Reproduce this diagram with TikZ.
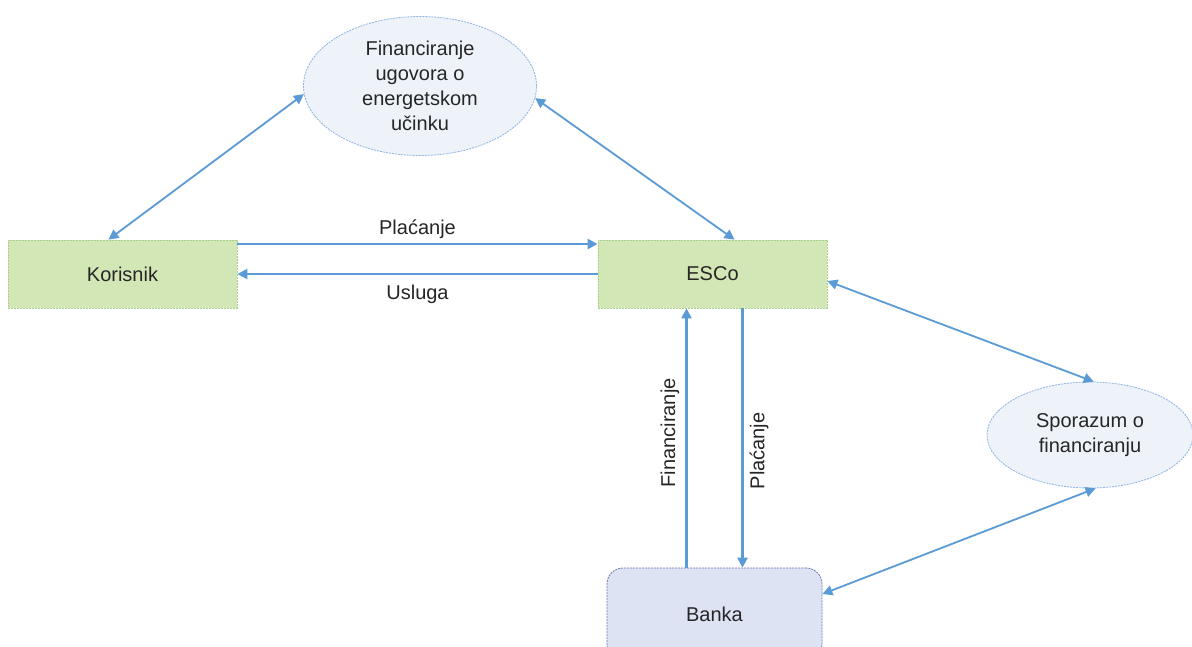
\documentclass[tikz,border=0pt]{standalone}
\usepackage{fontspec}
\setmainfont{Liberation Sans}
\usetikzlibrary{arrows.meta,shapes.geometric,calc}
\definecolor{arr}{HTML}{5B9BD5}
\definecolor{gfill}{HTML}{D3E6B5}
\definecolor{gline}{HTML}{A8D08D}
\definecolor{efill}{HTML}{EEF3FA}
\definecolor{eline}{HTML}{8DB3E2}
\definecolor{bfill}{HTML}{DEE3F3}
\definecolor{bline}{HTML}{6E78B0}
\begin{document}
\begin{tikzpicture}[x=1pt,y=-1pt,
  every node/.style={font=\fontsize{20}{25}\selectfont, text=black!85},
  greenbox/.style={rectangle, fill=gfill, draw=gline, dash pattern=on 2pt off 1pt, line width=0.8pt, minimum width=229pt, minimum height=68pt, inner sep=0pt},
  bubble/.style={ellipse, fill=efill, draw=eline, dash pattern=on 2pt off 1pt, line width=0.8pt, inner sep=0pt, align=center},
  bankbox/.style={rectangle, rounded corners=16pt, fill=bfill, draw=bline, dash pattern=on 2pt off 1pt, line width=0.8pt, minimum width=215pt, minimum height=92pt, inner sep=0pt},
  link/.style={draw=arr, line width=2.4pt, -{Triangle[length=10pt,width=10pt]}},
  bilink/.style={draw=arr, line width=1.8pt, {Triangle[length=10pt,width=10pt]}-{Triangle[length=10pt,width=10pt]}}
]
\useasboundingbox (0,0) rectangle (1192,646);
\clip (0,0) rectangle (1192,646);
\fill[white] (0,0) rectangle (1192,646);

\node[greenbox] (kor) at (122.5,274) {Korisnik};
\node[greenbox] (esco) at (712.5,274) {ESCo};
\node[bankbox] (bank) at (714.5,614) {Banka};
\node[bubble, minimum width=233pt, minimum height=139pt] (e1) at (420,86) {Financiranje\\ugovora o\\energetskom\\učinku};
\node[bubble, minimum width=206pt, minimum height=106pt] (e2) at (1090,435) {Sporazum o\\financiranju};

\draw[link] ([yshift=30pt]kor.east) -- ([yshift=30pt]kor.east -| esco.west)
  node[midway, above=1pt] {Plaćanje};
\draw[link] (esco.west) -- (kor.east)
  node[midway, below=6pt] {Usluga};

\draw[link] ([xshift=-28pt]bank.north) -- ([xshift=-28pt]bank.north |- esco.south)
  node[pos=0.52, anchor=south, rotate=90, inner sep=6pt] {Financiranje};
\draw[link] ([xshift=30pt]esco.south) -- ([xshift=30pt]esco.south |- bank.north)
  node[pos=0.55, anchor=north, rotate=90, inner sep=6pt] {Plaćanje};

\draw[bilink] ([xshift=-14pt]kor.north) -- (e1.184);
\draw[bilink] (e1.354) -- ([xshift=22pt]esco.north);
\draw[bilink] ([yshift=-7pt]esco.east) -- (e2.86);
\draw[bilink] ([yshift=20pt]bank.east) -- (e2.-84);
\end{tikzpicture}
\end{document}
